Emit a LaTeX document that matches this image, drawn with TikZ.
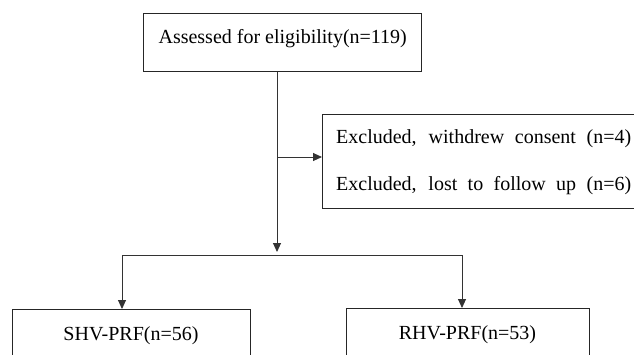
\documentclass[tikz,border=0pt]{standalone}
\usepackage{fontspec}
\setmainfont{Liberation Serif}
\usetikzlibrary{arrows.meta}
\tikzset{
	caixa/.style={draw=black!85, line width=1pt, inner sep=0pt, font=\fontsize{20}{24}\selectfont},
	texto/.style={inner sep=0pt, anchor=base west, font=\fontsize{20}{24}\selectfont},
	seta/.style={draw=black!80, line width=0.9pt, -{Triangle[length=9pt,width=8pt]}},
	linha/.style={draw=black!80, line width=0.9pt}
}
\begin{document}
\begin{tikzpicture}[x=1pt,y=-1pt] %Unidades em pontos, eixo y para baixo
	\useasboundingbox (0,0) rectangle (634,354);
	\clip (0,0) rectangle (634,354);
		%Caixas
	\node[caixa, anchor=north, minimum width=278pt, text height=30pt, text depth=28pt] (avaliados) at (282.7,13) {Assessed for eligibility(n=119)};
	\node[caixa, anchor=north west, minimum width=330pt, minimum height=94pt] (excluidos) at (322,114) {};
	\node[texto] (consentimento) at (336,143) {\makebox[295pt][s]{Excluded, withdrew consent (n=4)}};
	\node[texto] (seguimento) at (336,190) {\makebox[295pt][s]{Excluded, lost to follow up (n=6)}};
	\node[caixa, anchor=north, minimum width=238pt, text height=31pt, text depth=30pt] (shv) at (131,309) {SHV-PRF(n=56)};
	\node[caixa, anchor=north, minimum width=243pt, text height=31pt, text depth=30pt] (rhv) at (467.5,308) {RHV-PRF(n=53)};
		%Pontos de ligação
	\coordinate (divisao) at (277,255);
	\coordinate (desvio) at (277,157);
	\coordinate (esquerda) at (122,255);
	\coordinate (direita) at (462,255);
		%Setas
	\draw[seta, shorten >=3pt] (avaliados.south -| divisao) -- (divisao);
	\draw[seta] (desvio) -- (desvio -| excluidos.west);
	\draw[linha] (esquerda) -- (direita);
	\draw[seta] (esquerda) -- (esquerda |- shv.north);
	\draw[seta] (direita) -- (direita |- rhv.north);
\end{tikzpicture}
\end{document}
